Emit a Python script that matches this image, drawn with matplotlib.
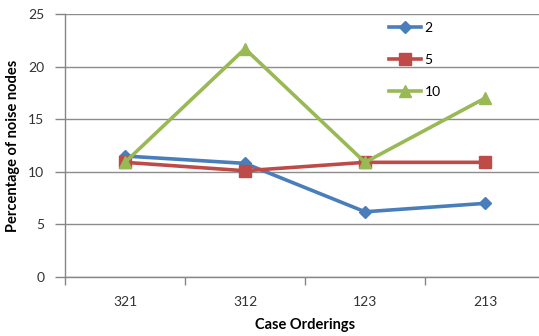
import matplotlib
matplotlib.use("Agg")
import matplotlib.pyplot as plt
from matplotlib.ticker import FixedLocator

categories = ["321", "312", "123", "213"]
series_names = ["2", "5", "10"]
s2 = [11.5, 10.8, 6.2, 7.0]
s5 = [10.9, 10.1, 10.9, 10.9]
s10 = [10.9, 21.7, 10.9, 17.0]
yticks = [0, 5, 10, 15, 20, 25]

plt.rcParams['font.family'] = ['Lato', 'DejaVu Sans']

fig = plt.figure(figsize=(5.39, 3.36), dpi=100)
ax = fig.add_axes([65/539, 1-277/336, (545-65)/539, (277-14)/336])

x = list(range(1, len(categories)+1))
colors = ["#4A7EBB", "#BE4B48", "#98B954"]
markers = ["D", "s", "^"]
msizes = [6, 8, 9]
for vals, name, c, m, ms in zip([s2, s5, s10], series_names, colors, markers, msizes):
    ax.plot(x, vals, color=c, lw=2.6, marker=m, markersize=ms, label=name, clip_on=False)

ax.set_xlim(0.5, len(categories)+0.5)
ax.set_ylim(0, 25)
ax.set_yticks(yticks)
ax.set_yticklabels([str(v) for v in yticks])
ax.set_xticks(x)
ax.set_xticklabels(categories)
ax.xaxis.set_minor_locator(FixedLocator([i+0.5 for i in range(len(categories)+1)]))
ax.tick_params(axis='x', which='major', length=0, pad=14, labelsize=10, colors='#333333')
ax.tick_params(axis='x', which='minor', length=6, width=1, color='#868686')
ax.tick_params(axis='y', length=7, width=1, color='#868686', labelsize=10, labelcolor='#333333', pad=8)
ax.grid(axis='y', color='#8C8C8C', lw=1)
ax.set_axisbelow(True)
for s in ['top', 'right']:
    ax.spines[s].set_visible(False)
for s in ['left', 'bottom']:
    ax.spines[s].set_color('#868686')
    ax.spines[s].set_linewidth(1)

ax.set_ylabel("Percentage of noise nodes", fontsize=10.5, fontweight='bold', labelpad=6)
ax.set_xlabel("Case Orderings", fontsize=10.5, fontweight='bold', labelpad=7)

leg = ax.legend(loc='upper left', bbox_to_anchor=((383-65)/480, 1-(2)/263), frameon=False,
                fontsize=10, labelspacing=1.45, handlelength=2.3, handletextpad=0.3,
                borderaxespad=0)

fig.savefig("out.png", dpi=100)
